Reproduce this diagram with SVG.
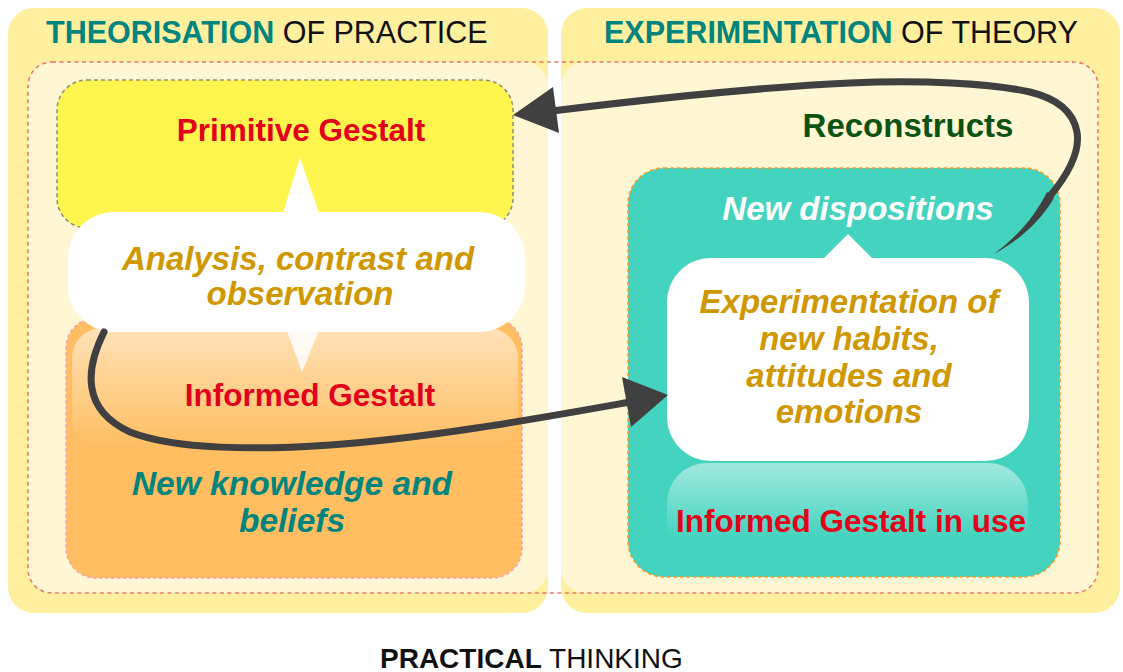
<svg xmlns="http://www.w3.org/2000/svg" width="1123" height="672" viewBox="0 0 1123 672">
<style>
text{font-family:"Liberation Sans",Arial,Helvetica,sans-serif;font-weight:bold;text-anchor:middle}
.title{font-size:30.5px;text-anchor:start}
.teal{fill:#00847E}
.reg{font-weight:normal;fill:#111}
.red{fill:#E2001A;font-size:31.5px}
.gold{fill:#CF9700;font-style:italic;font-size:33px}
.tealit{fill:#00847E;font-style:italic;font-size:33.5px}
.arrow{fill:none;stroke:#404040;stroke-width:7;stroke-linecap:round}
.head{fill:#404040}
</style>
<defs>
<linearGradient id="gOr" x1="0" y1="0" x2="0" y2="1">
<stop offset="0" stop-color="#FFFFFF" stop-opacity="0.55"/>
<stop offset="1" stop-color="#FFFFFF" stop-opacity="0"/>
</linearGradient>
<linearGradient id="gTe" x1="0" y1="0" x2="0" y2="1">
<stop offset="0" stop-color="#FFFFFF" stop-opacity="0.5"/>
<stop offset="0.75" stop-color="#FFFFFF" stop-opacity="0"/>
</linearGradient>
</defs>
<rect width="1123" height="672" fill="#FFFFFF"/>
<g id="panel-theorisation">
<rect x="8" y="8" width="540" height="605" rx="26" fill="#FFF09F"/>
<rect x="28" y="62" width="520" height="531" rx="24" fill="#FFF6D3"/>
<text class="title" x="46" y="43"><tspan class="teal">THEORISATION</tspan><tspan class="reg"> OF PRACTICE</tspan></text>
</g>
<g id="panel-experimentation">
<rect x="561" y="8" width="559" height="605" rx="26" fill="#FFF09F"/>
<rect x="561" y="62" width="537" height="531" rx="24" fill="#FFF6D3"/>
<text class="title" x="604" y="43"><tspan class="teal">EXPERIMENTATION</tspan><tspan class="reg"> OF THEORY</tspan></text>
</g>
<g id="practical-thinking-frame">
<rect x="28" y="62" width="1070" height="531" rx="24" fill="none" stroke="#E87A6C" stroke-width="1.6" stroke-dasharray="4 3.5"/>
<text x="380" y="668" style="font-size:28px;text-anchor:start"><tspan fill="#111">PRACTICAL</tspan><tspan class="reg"> THINKING</tspan></text>
</g>
<g id="primitive-gestalt">
<rect x="57" y="80" width="456" height="148" rx="30" fill="#FFF54F" stroke="#8E8E78" stroke-width="1.5" stroke-dasharray="4 3"/>
<text class="red" x="301" y="141">Primitive Gestalt</text>
</g>
<g id="informed-gestalt">
<rect x="66" y="318" width="456" height="260" rx="30" fill="#FFBE62" stroke="#FF90C8" stroke-width="1.4" stroke-dasharray="3 3"/>
<rect x="72" y="328" width="446" height="120" rx="30" fill="url(#gOr)"/>
<text class="red" x="310" y="406">Informed Gestalt</text>
<text class="tealit" x="292" y="495">New knowledge and</text>
<text class="tealit" x="292" y="532">beliefs</text>
</g>
<g id="analysis-callout">
<path d="M282 216 L300 158 L320 216 Z" fill="#FFFFFF"/>
<path d="M286 328 L302 372 L320 328 Z" fill="#FFFFFF" fill-opacity="0.85"/>
<rect x="68" y="212" width="457" height="120" rx="46" fill="#FFFFFF"/>
<text class="gold" x="298" y="270">Analysis, contrast and</text>
<text class="gold" x="300" y="305">observation</text>
</g>
<g id="reconstructs">
<text x="908" y="137" style="font-size:33px;fill:#0B5312">Reconstructs</text>
</g>
<g id="informed-gestalt-in-use">
<rect x="628" y="168" width="432" height="409" rx="36" fill="#44D3BE" stroke="#FF9A22" stroke-width="1.6" stroke-dasharray="3.5 3"/>
<rect x="667" y="463" width="361" height="100" rx="40" fill="url(#gTe)"/>
<text x="858" y="220" style="font-size:33px;fill:#FFFFFF;font-style:italic">New dispositions</text>
<text class="red" x="851" y="532">Informed Gestalt in use</text>
</g>
<g id="experimentation-callout">
<path d="M820 262 L848 234 L876 262 Z" fill="#FFFFFF"/>
<rect x="667" y="258" width="362" height="203" rx="44" fill="#FFFFFF"/>
<text class="gold" x="849" y="313">Experimentation of</text>
<text class="gold" x="849" y="350">new habits,</text>
<text class="gold" x="849" y="387">attitudes and</text>
<text class="gold" x="849" y="423">emotions</text>
</g>
<g id="connectors">
<path class="arrow" d="M104 332 C 85 370, 82 410, 130 432 C 175 450, 260 450, 330 445 C 430 438, 540 418, 630 402"/>
<polygon class="head" points="668,395 622,377 631,427"/>
<path d="M994 254 C 1015 238, 1033 220, 1047 192 L 1054 198 C 1040 222, 1018 241, 994 254 Z" class="head"/>
<path class="arrow" d="M1050 196 C 1070 172, 1080 150, 1077 132 C 1073 110, 1055 98, 1030 92 C 990 83, 920 80, 850 83 C 760 87, 650 99, 552 111"/>
<polygon class="head" points="513,115 553,87 559,133"/>
</g>
</svg>
